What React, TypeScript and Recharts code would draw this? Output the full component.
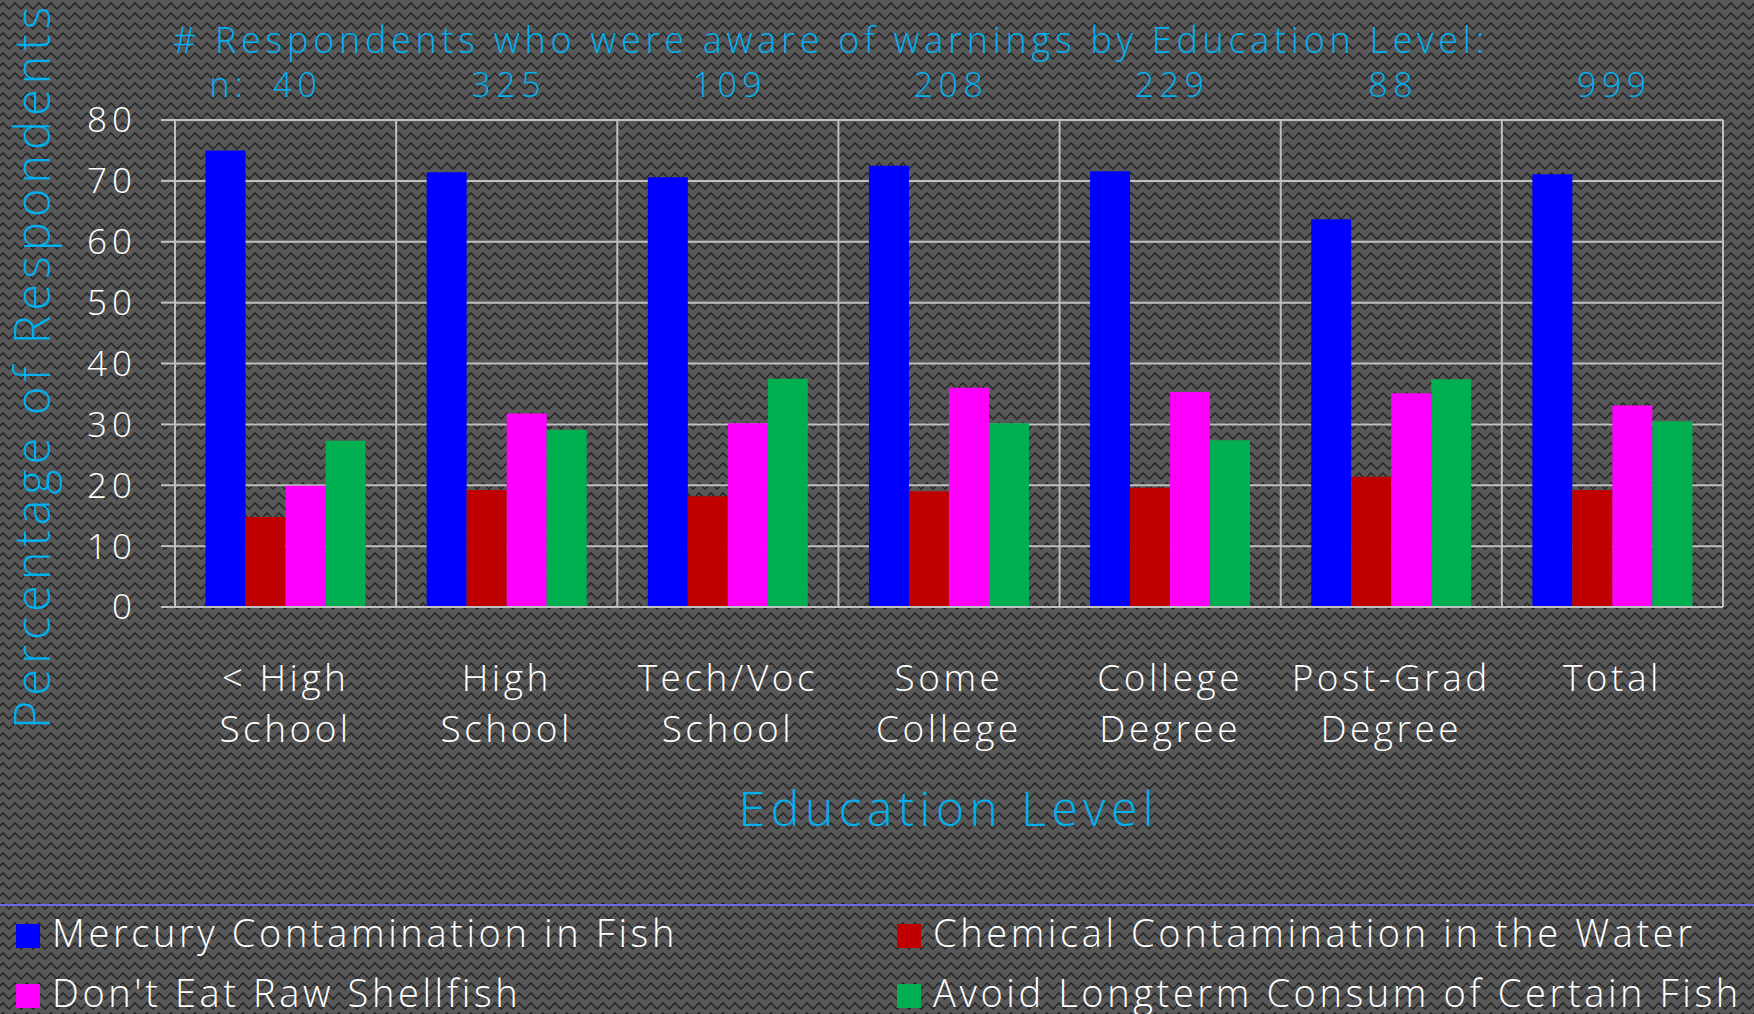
import React from 'react';
import { BarChart, Bar, XAxis, YAxis, CartesianGrid, Legend, Label } from 'recharts';

const categories = [
  '< High\nSchool',
  'High\nSchool',
  'Tech/Voc\nSchool',
  'Some\nCollege',
  'College\nDegree',
  'Post-Grad\nDegree',
  'Total',
];
const nRespondents = [40, 325, 109, 208, 229, 88, 999];

const mercury = [75.0, 71.4, 70.6, 72.5, 71.6, 63.7, 71.1];
const chemical = [14.8, 19.2, 18.2, 19.0, 19.6, 21.4, 19.2];
const shellfish = [19.9, 31.8, 30.2, 36.0, 35.3, 35.1, 33.1];
const avoidFish = [27.3, 29.1, 37.5, 30.2, 27.4, 37.4, 30.5];

const yTicks = [0, 10, 20, 30, 40, 50, 60, 70, 80];

const seriesNames = [
  'Mercury Contamination in Fish',
  'Chemical Contamination in the Water',
  "Don't Eat Raw Shellfish",
  'Avoid Longterm Consum of Certain Fish',
];
const seriesKeys = ['mercury', 'chemical', 'shellfish', 'avoidFish'];
const seriesColors = ['#0000FF', '#C00000', '#FF00FF', '#00B050'];

const data = categories.map((cat, i) => ({
  cat,
  n: nRespondents[i],
  mercury: mercury[i],
  chemical: chemical[i],
  shellfish: shellfish[i],
  avoidFish: avoidFish[i],
}));

const W = 1754;
const H = 1014;
const FONT = '"Open Sans", "DejaVu Sans", sans-serif';
const WEIGHT = 300;
const CYAN = '#00B0F0';
const GRID = '#C0C0C0';

const bgPattern =
  "url(\"data:image/svg+xml;utf8,<svg xmlns='http://www.w3.org/2000/svg' width='12' height='10'>" +
  "<rect width='12' height='10' fill='%23585858'/>" +
  "<polyline points='0,6 3,3 6,6 9,9 12,6' fill='none' stroke='%23262626' stroke-width='1.6'/></svg>\")";

const CategoryTick = ({ x, y, payload }: any) => {
  const lines = String(payload.value).split('\n');
  return (
    <text x={x} y={y} textAnchor="middle" fill="#FFFFFF" fontFamily={FONT} fontWeight={WEIGHT} fontSize={37} letterSpacing={3.5}>
      {lines.map((l, i) => (
        <tspan key={i} x={x} dy={i === 0 ? 84 : 51}>
          {l}
        </tspan>
      ))}
    </text>
  );
};

const CountTick = ({ x, y, payload, index }: any) => (
  <g>
    {index === 0 && (
      <text x={x - 76} y={y - 23} fill={CYAN} fontFamily={FONT} fontWeight={WEIGHT} fontSize={34} letterSpacing={5}>
        n:
      </text>
    )}
    <text
      x={index === 0 ? x + 12 : x + 2}
      y={y - 23}
      textAnchor="middle"
      fill={CYAN}
      fontFamily={FONT}
      fontWeight={WEIGHT}
      fontSize={34}
      letterSpacing={5.5}
    >
      {payload.value}
    </text>
  </g>
);

// legend drawn from the series arrays so the order stays row-major like the original
const renderLegend = () => (
  <div
    style={{
      height: 110,
      boxSizing: 'border-box',
      borderTop: '2px solid #6A6AE8',
      display: 'grid',
      gridTemplateColumns: '881px 1fr',
      fontFamily: FONT,
      fontWeight: WEIGHT,
      fontSize: 38,
      letterSpacing: 3.6,
      color: '#FFFFFF',
    }}
  >
    {seriesNames.map((name, i) => (
      <div
        key={name}
        style={{ height: 60, display: 'flex', alignItems: 'center', paddingLeft: 16, boxSizing: 'border-box' }}
      >
        <span style={{ width: 24, height: 24, background: seriesColors[i], marginRight: 12, flex: 'none' }} />
        <span style={{ whiteSpace: 'nowrap', position: 'relative', top: -4 }}>{name}</span>
      </div>
    ))}
  </div>
);

export default function App() {
  return (
    <div
      style={{
        position: 'absolute',
        left: 0,
        top: 0,
        width: W,
        height: H,
        overflow: 'hidden',
        backgroundColor: '#505050',
        backgroundImage: bgPattern,
      }}
    >
      <BarChart
        width={W}
        height={H}
        data={data}
        margin={{ top: 0, right: 31, left: 75, bottom: 0 }}
        barCategoryGap="13.8%"
        barGap={0}
      >
        <CartesianGrid
          stroke={GRID}
          strokeWidth={2}
          verticalCoordinatesGenerator={({ offset }: any) =>
            categories.map((_, i) => offset.left + (i * offset.width) / categories.length).concat(offset.left + offset.width)
          }
        />
        <XAxis
          dataKey="cat"
          height={297}
          interval={0}
          tickLine={false}
          tickSize={0}
          tickMargin={0}
          axisLine={{ stroke: GRID, strokeWidth: 2 }}
          tick={<CategoryTick />}
        >
          <Label
            content={({ viewBox }: any) => (
              <text
                x={viewBox.x + viewBox.width / 2}
                y={viewBox.y + 219}
                textAnchor="middle"
                fill={CYAN}
                fontFamily={FONT}
                fontWeight={WEIGHT}
                fontSize={48}
                letterSpacing={5.5}
              >
                Education Level
              </text>
            )}
          />
        </XAxis>
        <XAxis
          xAxisId="n"
          dataKey="n"
          orientation="top"
          height={120}
          interval={0}
          tickLine={false}
          tickSize={0}
          tickMargin={0}
          axisLine={false}
          tick={<CountTick />}
        >
          <Label
            content={({ viewBox }: any) => (
              <text
                x={viewBox.x - 2}
                y={viewBox.y + 53}
                fill={CYAN}
                fontFamily={FONT}
                fontWeight={WEIGHT}
                fontSize={36}
                letterSpacing={4.7}
              >
                # Respondents who were aware of warnings by Education Level:
              </text>
            )}
          />
        </XAxis>
        <YAxis
          width={100}
          domain={[0, 80]}
          ticks={yTicks}
          interval={0}
          tickSize={14}
          tickMargin={24}
          tickLine={{ stroke: GRID, strokeWidth: 2 }}
          axisLine={{ stroke: GRID, strokeWidth: 2 }}
          tick={{ fill: '#FFFFFF', fontFamily: FONT, fontWeight: WEIGHT, fontSize: 35, letterSpacing: 5 }}
        >
          <Label
            content={({ viewBox }: any) => {
              const cx = viewBox.x - 25;
              const cy = viewBox.y + viewBox.height / 2 + 2;
              return (
                <text
                  x={cx}
                  y={cy}
                  transform={`rotate(-90, ${cx}, ${cy})`}
                  textAnchor="middle"
                  fill={CYAN}
                  fontFamily={FONT}
                  fontWeight={WEIGHT}
                  fontSize={49}
                  letterSpacing={4.8}
                >
                  Percentage of Respondents
                </text>
              );
            }}
          />
        </YAxis>
        {seriesKeys.map((k, i) => (
          <Bar key={k} dataKey={k} name={seriesNames[i]} fill={seriesColors[i]} isAnimationActive={false} />
        ))}
        <Legend
          verticalAlign="bottom"
          content={renderLegend}
          wrapperStyle={{ left: 0, width: W, bottom: 0, height: 110 }}
        />
      </BarChart>
    </div>
  );
}
